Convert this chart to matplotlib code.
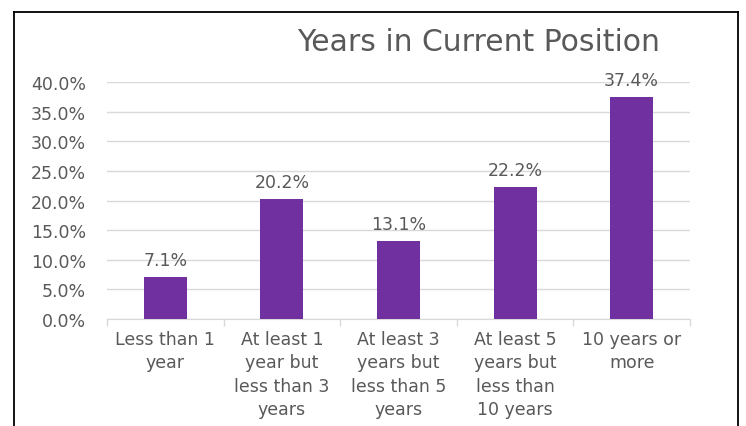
import matplotlib
matplotlib.use("Agg")
import matplotlib.pyplot as plt
from matplotlib.lines import Line2D
from matplotlib.ticker import PercentFormatter
import numpy as np

categories = [
    "Less than 1\nyear",
    "At least 1\nyear but\nless than 3\nyears",
    "At least 3\nyears but\nless than 5\nyears",
    "At least 5\nyears but\nless than\n10 years",
    "10 years or\nmore",
]
values = [7.1, 20.2, 13.1, 22.2, 37.4]

plt.rcParams["font.family"] = ["DejaVu Sans"]
TXT = "#595959"
BAR = "#7030A0"
GRID = "#D9D9D9"

fig = plt.figure(figsize=(7.46, 4.27), dpi=100)
ax = fig.add_axes([0.1434, 0.2506, 0.7815, 0.555])

x = np.arange(len(categories))
ax.bar(x, values, width=0.37, color=BAR, zorder=3)
for xi, v in zip(x, values):
    ax.annotate(f"{v:.1f}%", (xi, v), xytext=(0, 6), textcoords="offset points",
                ha="center", va="bottom", fontsize=12.5, color=TXT)

ax.set_xlim(-0.5, len(categories) - 0.5)
ax.set_ylim(0, 40)
ax.set_yticks(np.arange(0, 40.1, 5))
ax.yaxis.set_major_formatter(PercentFormatter(decimals=1))
ax.tick_params(axis="y", length=0, pad=15, labelsize=12.5, labelcolor=TXT)
ax.set_xticks(x)
ax.set_xticklabels(categories, fontsize=12.5, color=TXT, linespacing=1.38)
ax.tick_params(axis="x", which="major", length=0, pad=8)
ax.set_xticks(np.arange(-0.5, len(categories), 1), minor=True)
ax.tick_params(axis="x", which="minor", length=5, color=GRID, width=1)
ax.grid(axis="y", color=GRID, linewidth=1, zorder=0)
for s in ["top", "right", "left"]:
    ax.spines[s].set_visible(False)
ax.spines["bottom"].set_color(GRID)

fig.text(0.642, 0.900, "Years in Current Position", ha="center", va="center",
         fontsize=21.5, color=TXT)

# outer chart frame (left, top, right)
fx0, fx1, fy1 = 14 / 746, 738 / 746, 1 - 13 / 427
for xs, ys in [([fx0, fx0], [0, fy1]), ([fx0, fx1], [fy1, fy1]), ([fx1, fx1], [fy1, 0])]:
    fig.add_artist(Line2D(xs, ys, color="black", linewidth=1.3, transform=fig.transFigure))

fig.savefig("out.png", dpi=100)
